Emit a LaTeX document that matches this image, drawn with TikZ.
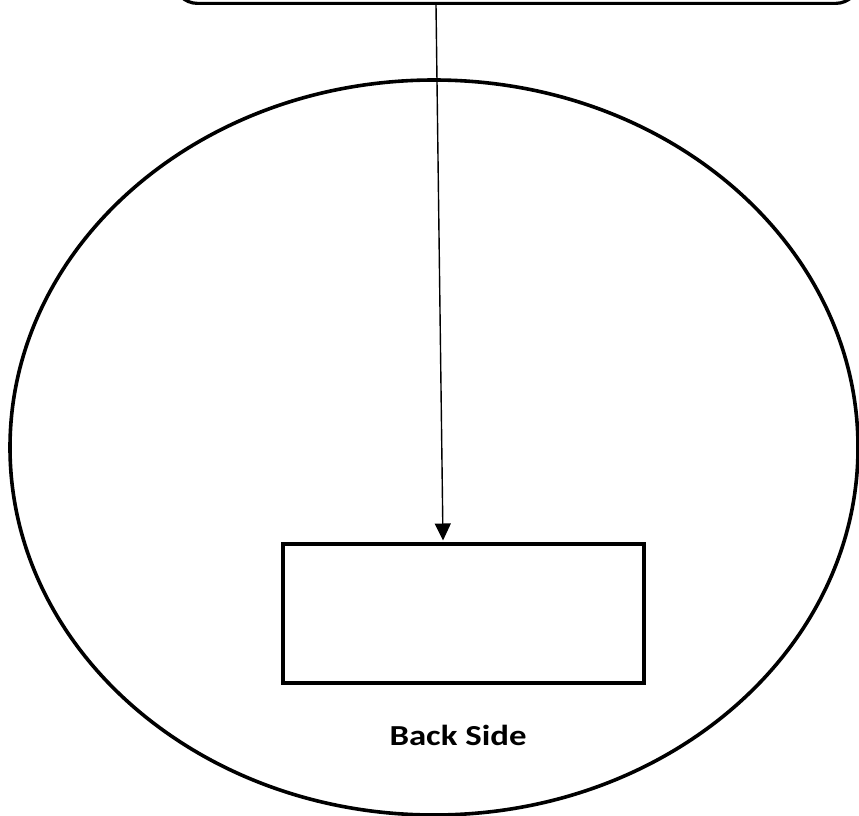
\documentclass[tikz,border=0pt]{standalone}
\usepackage{fontspec}
\setmainfont{Carlito}
\usetikzlibrary{arrows.meta}
\begin{document}
\begin{tikzpicture}[x=1pt,y=-1pt,
  heavy/.style={draw=black,line width=3.6pt},
  heavier/.style={draw=black,line width=4.4pt},
  conn/.style={draw=black,line width=1.4pt,-{Triangle[length=17pt,width=16pt]}},
  lbl/.style={font=\fontsize{29}{32}\selectfont\bfseries,xscale=1.2,transform shape}]
\useasboundingbox (0,0) rectangle (859,816);
\clip (0,0) rectangle (859,816);
\node[heavy,line width=3.2pt,rounded corners=24pt,minimum width=686pt,minimum height=120pt,anchor=south west,inner sep=0pt] (top) at (172,5) {};
\draw[heavy] (434,447.5) ellipse [x radius=424pt,y radius=367.5pt];
\node[heavier,minimum width=361pt,minimum height=139pt,anchor=north west,inner sep=0pt] (box) at (281,542) {};
\coordinate (s) at (436,5);
\coordinate (e) at (443,540.5);
\draw[conn] (s) -- (e);
\node[lbl] (t) at (458,735) {Back Side};
\end{tikzpicture}
\end{document}
